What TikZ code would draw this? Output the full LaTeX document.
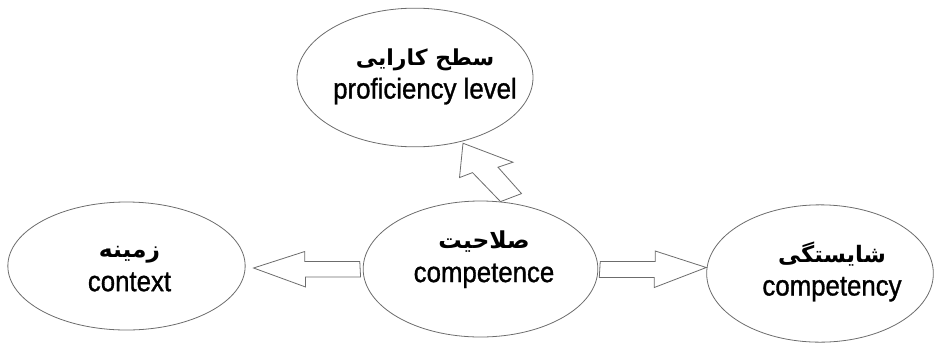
\documentclass[tikz,border=0pt]{standalone}
\usepackage{fontspec}
\setmainfont{Liberation Sans}[FakeBold=1.1, FakeStretch=0.9]
\newfontfamily\farsi[Script=Arabic]{DejaVu Sans}
\TeXXeTstate=1
\usetikzlibrary{shapes,calc,positioning}

\begin{document}
\begin{tikzpicture}[x=0.75pt, y=-0.75pt,
    oval/.style={ellipse, draw=gray!85!black, line width=0.6pt, inner sep=0pt},
    txt/.style={align=center, font=\fontsize{21.5}{25}\selectfont},
    blk/.style={draw=gray!85!black, line width=0.6pt, line join=miter}]
    \useasboundingbox (0,0) rectangle (934,343);

    % Ovals
    \node [oval, minimum width=177pt, minimum height=104pt] (level) at (415,77.5) {};
    \node [oval, minimum width=178pt, minimum height=96pt] (context) at (126.5,266) {};
    \node [oval, minimum width=176pt, minimum height=102pt] (competence) at (480.5,269) {};
    \node [oval, minimum width=170pt, minimum height=103pt] (competency) at (820,273.5) {};

    % Labels
    \node [txt] (levelt) at ($(level)+(10,-1)$) {{\farsi\bfseries\fontsize{16.5}{25}\selectfont\beginR سطح کارایی\endR}\\proficiency level};
    \node [txt] (contextt) at ($(context)+(3,3)$) {{\farsi\bfseries\fontsize{17.5}{22}\selectfont\beginR زمینه\endR}\\context};
    \node [txt] (competencet) at ($(competence)+(3.5,-9.5)$) {{\farsi\bfseries\fontsize{17.5}{25}\selectfont\beginR صلاحیت\endR}\\competence};
    \node [txt] (competencyt) at ($(competency)+(12,-2)$) {{\farsi\bfseries\fontsize{17}{25}\selectfont\beginR شایستگی\endR}\\competency};

    % Block arrows
    \coordinate (tipL) at ($(context.east)+(8,2)$);
    \draw [blk] ($(competence.west)+(-3,-7.5)$) -- ++(-55,0) -- ++(0,-10) -- (tipL)
        -- ($(tipL)+(52,19)$) -- ++(0,-10) -- ++(55,0) -- cycle;
    \coordinate (tipR) at ($(competency.west)+(0,-6)$);
    \draw [blk] ($(competence.east)+(2,-7.5)$) -- ++(55,0) -- ++(0,-10.5) -- (tipR)
        -- ($(tipR)+(-52,20)$) -- ++(0,-10) -- ++(-55,0) -- cycle;
    \coordinate (upbase) at ($(competence.north)+(20,1)$);
    \coordinate (uptip) at ($(level.south)+(48,-4)$);
    \draw [blk] (upbase) -- ($(upbase)+(-28,-29)$) -- ++(-13,5) -- (uptip)
        -- ($(uptip)+(50,19)$) -- ++(-15,5) -- ($(upbase)+(21,-8)$) -- cycle;
\end{tikzpicture}
\end{document}
